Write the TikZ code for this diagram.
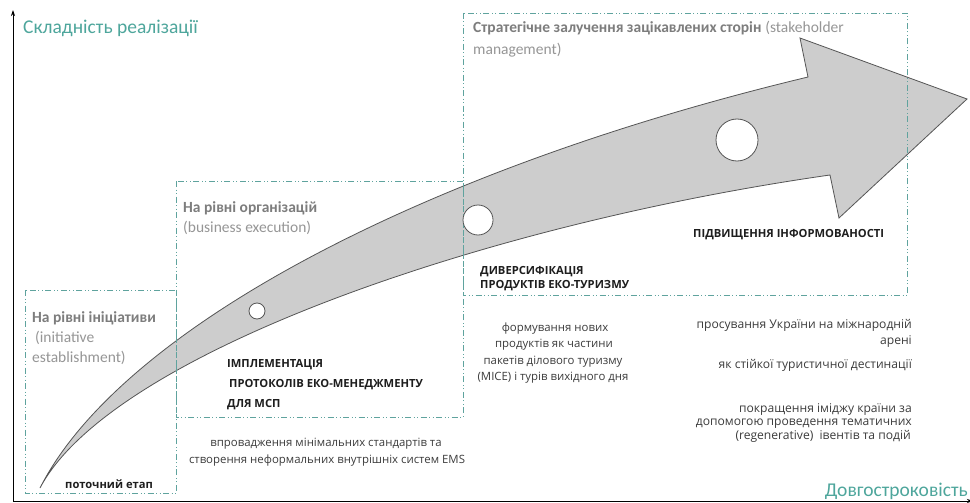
\documentclass[tikz,border=0pt]{standalone}
\usepackage{fontspec}
\usetikzlibrary{arrows.meta}
\setmainfont{Carlito}
\newfontfamily\bodyfont{Open Sans}
\definecolor{tealtxt}{RGB}{78,166,156}
\definecolor{boxc}{RGB}{95,163,158}
\definecolor{ttlbold}{RGB}{125,125,125}
\definecolor{ttlreg}{RGB}{150,150,150}
\definecolor{arrfill}{RGB}{205,205,205}
\definecolor{arrline}{RGB}{85,85,85}
\definecolor{capc}{RGB}{30,30,30}
\definecolor{bodyc}{RGB}{60,60,60}
\begin{document}
\begin{tikzpicture}[x=1pt,y=-1pt,
  stagebox/.style={draw=boxc, line width=0.9pt, dash pattern=on 6pt off 2.5pt on 1pt off 2.5pt on 1pt off 2.5pt},
  axislabel/.style={text=tealtxt, font=\fontsize{19.5}{22}\selectfont, inner sep=0},
  ttlb/.style={text=ttlbold, font=\bfseries\fontsize{15.5}{20}\selectfont, inner sep=0},
  ttlr/.style={text=ttlreg, font=\fontsize{15.5}{20}\selectfont, inner sep=0},
  caps/.style={text=capc, font=\bodyfont\bfseries\fontsize{11.2}{13}\selectfont, inner sep=0},
  body/.style={text=bodyc, font=\bodyfont\fontsize{11.4}{13}\selectfont, inner sep=0},
  bodyr/.style={text=bodyc, font=\bodyfont\fontsize{12.1}{13}\selectfont, inner sep=0},
  milestone/.style={circle, draw=arrline, fill=white, line width=0.8pt, inner sep=0},
  axisline/.style={draw=black, line width=0.8pt}
]
\useasboundingbox (0,0) rectangle (970,503);
\fill[white] (0,0) rectangle (970,503);

% axes
\coordinate (origin) at (13,501);
\coordinate (ytop) at (13,10);
\coordinate (xend) at (973,501);
\draw[axisline, -{Stealth[length=6pt,width=4pt]}] (origin) -- (ytop);
\draw[axisline, -{Stealth[length=6pt,width=4pt]}] (origin) -- (xend);

% main curved arrow
\filldraw[fill=arrfill, draw=arrline, line width=0.8pt, line join=miter]
  (40,488) .. controls (120,330) and (420,170) .. (808,77)
  -- (800,38) -- (967,99) -- (839,218) -- (830,175)
  .. controls (480,225) and (110,355) .. (40,488)
  -- cycle;

% stage boxes
\draw[stagebox] (25,290) rectangle (176,493);
\draw[stagebox] (176,181) rectangle (463,417);
\draw[stagebox] (463,13) rectangle (907,295);

% milestones
\node[milestone, minimum size=16pt] (m1) at (257,311) {};
\node[milestone, minimum size=30pt] (m2) at (478,220) {};
\node[milestone, minimum size=42pt] (m3) at (737,140) {};

% axis labels
\node[axislabel, anchor=base west] (ylab) at (23,34) {Складність реалізації};
\node[axislabel, anchor=base east] (xlab) at (968,496) {Довгостроковість};

% box titles
\node[ttlb, anchor=base west] (t1a) at (32,322) {На рівні ініціативи};
\node[ttlr, anchor=base west] (t1b) at (35,342) {(initiative};
\node[ttlr, anchor=base west] (t1c) at (32,362) {establishment)};
\node[ttlb, anchor=base west] (t2a) at (183,212) {На рівні організацій};
\node[ttlr, anchor=base west] (t2b) at (183,232) {(business execution)};
\node[ttlb, anchor=base west] (t3a) at (473,33) {Стратегічне залучення зацікавлених сторін};
\node[ttlr, anchor=base west] (t3b) at (t3a.base east) {\ (stakeholder};
\node[ttlr, anchor=base west] (t3c) at (473,55) {management)};

% milestone captions
\node[caps, anchor=base west] (c1) at (65,488) {поточний етап};
\node[caps, anchor=base west] (c2a) at (227,367) {ІМПЛЕМЕНТАЦІЯ};
\node[caps, anchor=base west] (c2b) at (229,387) {ПРОТОКОЛІВ ЕКО-МЕНЕДЖМЕНТУ};
\node[caps, anchor=base west] (c2c) at (227,407) {ДЛЯ МСП};
\node[caps, anchor=base west] (c3a) at (480,274) {ДИВЕРСИФІКАЦІЯ};
\node[caps, anchor=base west] (c3b) at (480,288) {ПРОДУКТІВ ЕКО-ТУРИЗМУ};
\node[caps, anchor=base west] (c4) at (693,237) {ПІДВИЩЕННЯ ІНФОРМОВАНОСТІ};

% descriptions
\node[body, anchor=base] (d1a) at (326,446) {впровадження мінімальних стандартів та};
\node[body, anchor=base] (d1b) at (327,463) {створення неформальних внутрішніх систем EMS};
\node[body, anchor=base] (d2a) at (555,331) {формування нових};
\node[body, anchor=base] (d2b) at (554,347) {продуктів як частини};
\node[body, anchor=base] (d2c) at (553,364) {пакетів ділового туризму};
\node[body, anchor=base] (d2d) at (553,380) {(MICE) і турів вихідного дня};
\node[bodyr, anchor=base east] (d3a) at (912,328) {просування України на міжнародній};
\node[bodyr, anchor=base east] (d3b) at (912,344) {арені};
\node[bodyr, anchor=base east] (d3c) at (912,368) {як стійкої туристичної дестинації};
\node[bodyr, anchor=base east] (d4a) at (912,412) {покращення іміджу країни за};
\node[bodyr, anchor=base east] (d4b) at (912,425) {допомогою проведення тематичних};
\node[bodyr, anchor=base east] (d4c) at (911,439) {(regenerative)\ \ івентів та подій};
\end{tikzpicture}
\end{document}
